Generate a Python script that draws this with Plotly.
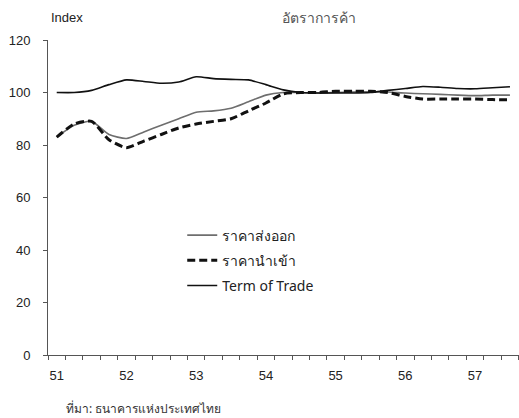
import plotly.graph_objects as go

# Quarterly index values, Thai Buddhist-era years 2551 Q1 - 2557 Q3 (base = 100)
quarters = [51 + i / 4 for i in range(27)]
export_price = [83, 87.5, 89, 84, 82.5, 85, 87.5, 90, 92.5, 93, 94, 96.5, 99, 100,
                100, 99.8, 100, 100.2, 100.3, 100.2, 99.8, 99.5, 99.3, 99, 98.8, 99, 99]
import_price = [83, 88, 89, 82, 79, 81.5, 84, 86.5, 88, 89, 90, 93, 96, 99.5,
                100, 100, 100.5, 100.5, 100.5, 100, 98.5, 97.5, 97.5, 97.5, 97.5, 97.3, 97.2]
terms_of_trade = [100, 100, 100.8, 103, 104.8, 104.2, 103.5, 104, 106, 105.3, 105, 104.8,
                  103, 101, 100, 99.8, 99.8, 99.8, 100, 100.8, 101.5, 102.3, 102, 101.5,
                  101.4, 101.8, 102.2]

year_ticks = [51, 52, 53, 54, 55, 56, 57]
year_labels = ["51", "52", "53", "54", "55", "56", "57"]
y_ticks = [0, 20, 40, 60, 80, 100, 120]

series_names = ["ราคาส่งออก", "ราคานำเข้า", "Term of Trade"]

FONT = "Liberation Sans, Arial, sans-serif"
THAI_FONT = "Noto Sans, Liberation Sans, sans-serif"

fig = go.Figure()
fig.add_trace(go.Scatter(
    x=quarters, y=export_price, name=series_names[0], mode="lines",
    line=dict(color="#6e6e6e", width=1.6, shape="spline", smoothing=0.6),
    legendgroup="a"))
fig.add_trace(go.Scatter(
    x=quarters, y=import_price, name=series_names[1], mode="lines",
    line=dict(color="#111111", width=3, dash="8px,4px", shape="spline", smoothing=0.6),
    legendgroup="b"))
fig.add_trace(go.Scatter(
    x=quarters, y=terms_of_trade, name=series_names[2], mode="lines",
    line=dict(color="#111111", width=1.6, shape="spline", smoothing=0.6),
    legendgroup="c"))

fig.update_layout(
    width=519, height=418,
    margin=dict(l=48, r=0, t=40, b=63),
    paper_bgcolor="white", plot_bgcolor="white",
    font=dict(family=FONT, size=13, color="#222"),
    showlegend=True,
    legend=dict(
        x=0.285, y=0.43, xanchor="left", yanchor="top",
        bgcolor="rgba(0,0,0,0)", borderwidth=0,
        font=dict(family=THAI_FONT, size=14, color="#222"),
        tracegroupgap=4,
    ),
    xaxis=dict(
        range=[50.875, 57.63],
        tickmode="array", tickvals=year_ticks, ticktext=year_labels,
        ticks="", showgrid=False, zeroline=False,
        showline=True, linecolor="#555", linewidth=1,
        tickfont=dict(size=13, color="#222"),
        minor=dict(ticks="outside", ticklen=4, tickcolor="#555",
                   tick0=50.875, dtick=0.25, showgrid=False),
        ticklabelstandoff=8,
    ),
    yaxis=dict(
        range=[0, 120],
        tickmode="array", tickvals=y_ticks,
        ticks="outside", ticklen=4, tickcolor="#555",
        showgrid=False, zeroline=False,
        showline=True, linecolor="#555", linewidth=1,
        tickfont=dict(size=13, color="#222"),
        ticklabelstandoff=10,
    ),
    annotations=[
        dict(text="Index", xref="paper", yref="paper", x=0.003, y=1.04,
             xanchor="left", yanchor="bottom", showarrow=False,
             font=dict(family=FONT, size=13, color="#222")),
        dict(text="อัตราการค้า", xref="paper", yref="paper", x=0.575, y=1.035,
             xanchor="center", yanchor="bottom", showarrow=False,
             font=dict(family=THAI_FONT, size=14, color="#555")),
        dict(text="ที่มา: ธนาคารแห่งประเทศไทย", xref="paper", yref="paper",
             x=0.035, y=-0.135, xanchor="left", yanchor="top", showarrow=False,
             font=dict(family=THAI_FONT, size=12, color="#333")),
    ],
)

fig.write_html("out.html")
